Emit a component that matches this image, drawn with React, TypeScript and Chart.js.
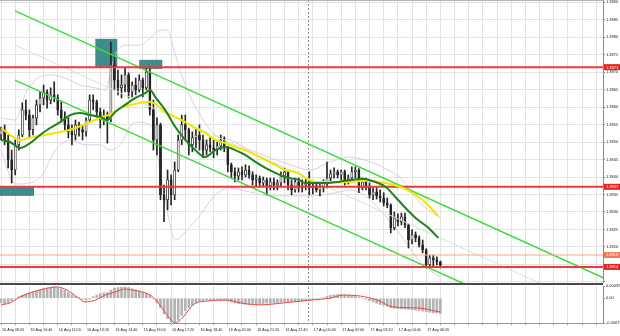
import React, { useEffect, useRef } from 'react';
import { Chart, registerables } from 'chart.js';

Chart.register(...registerables);

const FONT = '"Liberation Sans", Arial, sans-serif';

// ---- time axis labels (one every 8 bars) ----
const timeLabels = [
  '16 Aug 09:20', '16 Aug 10:40', '16 Aug 12:00', '16 Aug 13:20', '16 Aug 14:40', '16 Aug 16:00',
  '16 Aug 17:20', '16 Aug 18:40', '16 Aug 20:00', '16 Aug 21:20', '16 Aug 22:40', '17 Aug 00:00',
  '17 Aug 02:00', '17 Aug 03:20', '17 Aug 04:40', '17 Aug 06:20',
];

// ---- candles ----
const opens = [
  1.38520, 1.38535, 1.38506, 1.38449, 1.38420, 1.38492, 1.38520, 1.38592, 1.38577, 1.38535,
  1.38569, 1.38606, 1.38626, 1.38643, 1.38620, 1.38635, 1.38626, 1.38592, 1.38569, 1.38549,
  1.38529, 1.38520, 1.38549, 1.38535, 1.38529, 1.38563, 1.38620, 1.38615, 1.38586, 1.38563,
  1.38577, 1.38563, 1.38720, 1.38677, 1.38655, 1.38663, 1.38692, 1.38643, 1.38663, 1.38649,
  1.38677, 1.38655, 1.38700, 1.38592, 1.38506, 1.38549, 1.38349, 1.38335, 1.38392, 1.38349,
  1.38420, 1.38506, 1.38549, 1.38535, 1.38492, 1.38512, 1.38520, 1.38506, 1.38477, 1.38492,
  1.38483, 1.38477, 1.38489, 1.38506, 1.38483, 1.38435, 1.38415, 1.38403, 1.38415, 1.38406,
  1.38420, 1.38406, 1.38392, 1.38397, 1.38383, 1.38392, 1.38375, 1.38386, 1.38377, 1.38383,
  1.38403, 1.38415, 1.38377, 1.38363, 1.38386, 1.38369, 1.38377, 1.38386, 1.38369, 1.38375,
  1.38363, 1.38372, 1.38383, 1.38397, 1.38409, 1.38415, 1.38406, 1.38415, 1.38392, 1.38397,
  1.38415, 1.38420, 1.38369, 1.38386, 1.38375, 1.38349, 1.38357, 1.38346, 1.38340, 1.38326,
  1.38320, 1.38255, 1.38283, 1.38272, 1.38286, 1.38263, 1.38220, 1.38235, 1.38226, 1.38206,
  1.38192, 1.38149, 1.38169, 1.38163, 1.38157,
];
const highs = [
  1.38543, 1.38549, 1.38520, 1.38477, 1.38506, 1.38535, 1.38612, 1.38620, 1.38592, 1.38577,
  1.38620, 1.38643, 1.38663, 1.38649, 1.38655, 1.38672, 1.38635, 1.38615, 1.38586, 1.38569,
  1.38549, 1.38563, 1.38557, 1.38549, 1.38569, 1.38635, 1.38635, 1.38620, 1.38597, 1.38592,
  1.38586, 1.38786, 1.38749, 1.38706, 1.38692, 1.38712, 1.38698, 1.38672, 1.38683, 1.38692,
  1.38683, 1.38712, 1.38712, 1.38620, 1.38569, 1.38554, 1.38377, 1.38420, 1.38406, 1.38443,
  1.38520, 1.38577, 1.38577, 1.38540, 1.38529, 1.38540, 1.38549, 1.38520, 1.38506, 1.38515,
  1.38506, 1.38500, 1.38520, 1.38515, 1.38488, 1.38440, 1.38426, 1.38426, 1.38429, 1.38435,
  1.38432, 1.38415, 1.38406, 1.38403, 1.38400, 1.38397, 1.38397, 1.38397, 1.38392, 1.38415,
  1.38426, 1.38419, 1.38392, 1.38397, 1.38397, 1.38392, 1.38397, 1.38415, 1.38386, 1.38386,
  1.38383, 1.38392, 1.38443, 1.38420, 1.38426, 1.38420, 1.38420, 1.38420, 1.38406, 1.38429,
  1.38429, 1.38424, 1.38397, 1.38397, 1.38383, 1.38369, 1.38369, 1.38363, 1.38355, 1.38340,
  1.38323, 1.38300, 1.38295, 1.38297, 1.38297, 1.38266, 1.38249, 1.38243, 1.38232, 1.38220,
  1.38195, 1.38177, 1.38177, 1.38172, 1.38160,
];
const lows = [
  1.38506, 1.38492, 1.38426, 1.38383, 1.38406, 1.38477, 1.38515, 1.38563, 1.38515, 1.38520,
  1.38549, 1.38586, 1.38606, 1.38597, 1.38609, 1.38615, 1.38577, 1.38557, 1.38535, 1.38512,
  1.38492, 1.38506, 1.38517, 1.38506, 1.38517, 1.38557, 1.38592, 1.38569, 1.38540, 1.38549,
  1.38497, 1.38558, 1.38649, 1.38635, 1.38626, 1.38643, 1.38626, 1.38629, 1.38635, 1.38643,
  1.38629, 1.38649, 1.38577, 1.38477, 1.38463, 1.38335, 1.38272, 1.38306, 1.38320, 1.38335,
  1.38415, 1.38492, 1.38506, 1.38463, 1.38472, 1.38483, 1.38477, 1.38455, 1.38463, 1.38472,
  1.38455, 1.38463, 1.38477, 1.38472, 1.38415, 1.38397, 1.38386, 1.38392, 1.38392, 1.38400,
  1.38397, 1.38377, 1.38375, 1.38372, 1.38375, 1.38349, 1.38363, 1.38363, 1.38363, 1.38372,
  1.38383, 1.38363, 1.38349, 1.38357, 1.38357, 1.38357, 1.38363, 1.38349, 1.38352, 1.38357,
  1.38346, 1.38357, 1.38369, 1.38386, 1.38397, 1.38397, 1.38392, 1.38377, 1.38380, 1.38389,
  1.38397, 1.38355, 1.38363, 1.38363, 1.38340, 1.38335, 1.38337, 1.38329, 1.38317, 1.38312,
  1.38240, 1.38249, 1.38260, 1.38263, 1.38255, 1.38197, 1.38209, 1.38215, 1.38200, 1.38183,
  1.38140, 1.38140, 1.38146, 1.38149, 1.38140,
];
const closes = [
  1.38535, 1.38506, 1.38449, 1.38420, 1.38492, 1.38520, 1.38592, 1.38577, 1.38535, 1.38569,
  1.38606, 1.38626, 1.38643, 1.38620, 1.38635, 1.38626, 1.38592, 1.38569, 1.38549, 1.38529,
  1.38520, 1.38549, 1.38535, 1.38529, 1.38563, 1.38620, 1.38615, 1.38586, 1.38563, 1.38577,
  1.38563, 1.38720, 1.38677, 1.38655, 1.38663, 1.38692, 1.38643, 1.38663, 1.38649, 1.38677,
  1.38655, 1.38700, 1.38592, 1.38506, 1.38549, 1.38349, 1.38335, 1.38392, 1.38349, 1.38420,
  1.38506, 1.38549, 1.38535, 1.38492, 1.38512, 1.38520, 1.38506, 1.38477, 1.38492, 1.38483,
  1.38477, 1.38489, 1.38506, 1.38483, 1.38435, 1.38415, 1.38403, 1.38415, 1.38406, 1.38420,
  1.38406, 1.38392, 1.38397, 1.38383, 1.38392, 1.38375, 1.38386, 1.38377, 1.38383, 1.38403,
  1.38415, 1.38377, 1.38363, 1.38386, 1.38369, 1.38377, 1.38386, 1.38369, 1.38375, 1.38363,
  1.38372, 1.38383, 1.38397, 1.38409, 1.38415, 1.38406, 1.38415, 1.38392, 1.38397, 1.38415,
  1.38420, 1.38369, 1.38386, 1.38375, 1.38349, 1.38357, 1.38346, 1.38340, 1.38326, 1.38320,
  1.38255, 1.38283, 1.38272, 1.38286, 1.38263, 1.38220, 1.38235, 1.38226, 1.38206, 1.38192,
  1.38149, 1.38169, 1.38163, 1.38157, 1.38149,
];

// ---- moving averages & bands: [bar index, price] ----
const yellowMA: [number, number][] = [
  [0, 1.38540], [5.4, 1.38506], [8.2, 1.38512], [13.8, 1.38523], [19.5, 1.38535], [25.1, 1.38557],
  [28, 1.38569], [30.8, 1.38580], [33.6, 1.38597], [37.9, 1.38609], [42.1, 1.38615], [43.5, 1.38609],
  [46.3, 1.38586], [49.2, 1.38572], [52, 1.38557], [54.8, 1.38540], [57.6, 1.38526], [60.5, 1.38506],
  [63.3, 1.38497], [66.1, 1.38486], [68.9, 1.38477], [71.8, 1.38463], [74.6, 1.38449], [77.4, 1.38435],
  [80.2, 1.38420], [83.9, 1.38412], [85.9, 1.38397], [88.7, 1.38386], [91.5, 1.38386], [97.2, 1.38386],
  [102.8, 1.38389], [108.5, 1.38383], [114.1, 1.38366], [118.9, 1.38335], [123.4, 1.38289],
];
const greenMA: [number, number][] = [
  [0, 1.38506], [2.5, 1.38500], [5.4, 1.38483], [8.2, 1.38497], [11, 1.38520], [13.8, 1.38540],
  [16.7, 1.38557], [19.5, 1.38577], [22.3, 1.38583], [25.1, 1.38577], [28, 1.38572], [30, 1.38563],
  [32.2, 1.38586], [35, 1.38606], [37.9, 1.38626], [40.7, 1.38640], [42.1, 1.38649], [43.5, 1.38629],
  [46.3, 1.38592], [49.2, 1.38543], [52, 1.38506], [54.8, 1.38477], [57.6, 1.38457], [60.5, 1.38477],
  [63.3, 1.38486], [66.1, 1.38477], [68.9, 1.38463], [71.8, 1.38443], [74.6, 1.38426], [77.4, 1.38412],
  [80.2, 1.38400], [83.9, 1.38392], [85.9, 1.38383], [91.5, 1.38383], [97.2, 1.38389], [102, 1.38395],
  [105.6, 1.38386], [108.5, 1.38372], [111.3, 1.38343], [114.1, 1.38312], [117, 1.38283],
  [120.6, 1.38255], [123.4, 1.38226],
];
const bandUpper: [number, number][] = [
  [0, 1.38569], [4, 1.38563], [6.8, 1.38635], [9.6, 1.38677], [13.8, 1.38692], [18.1, 1.38683],
  [22.3, 1.38663], [26.6, 1.38655], [29.4, 1.38649], [32.2, 1.38749], [35, 1.38777], [39.3, 1.38777],
  [42.1, 1.38797], [44.9, 1.38820], [46.9, 1.38820], [49.2, 1.38749], [52, 1.38663], [56.2, 1.38577],
  [60.5, 1.38520], [64.7, 1.38506], [70.3, 1.38477], [76, 1.38455], [81.6, 1.38435], [87.3, 1.38420],
  [92.9, 1.38443], [98.6, 1.38457], [104.2, 1.38443], [109.3, 1.38420], [113.3, 1.38392],
  [117, 1.38340], [120.6, 1.38306], [124, 1.38283],
];
const bandLower: [number, number][] = [
  [0, 1.38477], [4, 1.38380], [8.2, 1.38383], [11.6, 1.38406], [15.3, 1.38477], [19.5, 1.38506],
  [23.7, 1.38492], [28, 1.38492], [30.8, 1.38477], [33.6, 1.38492], [37.9, 1.38557], [42.1, 1.38549],
  [44.4, 1.38449], [46.3, 1.38335], [49.2, 1.38220], [52.5, 1.38249], [56.2, 1.38292], [60.5, 1.38349],
  [64.7, 1.38369], [70.3, 1.38357], [76, 1.38346], [81.6, 1.38346], [87.3, 1.38346], [92.9, 1.38352],
  [98.6, 1.38363], [102.8, 1.38346], [107, 1.38306], [112.7, 1.38235], [118.4, 1.38157], [124, 1.38112],
];

// ---- drawn objects ----
const channelUpper: [number, number][] = [[3.95, 1.38875], [170, 1.38112]];
const channelMid: [number, number][] = [[3.95, 1.38777], [170, 1.38014]];
const channelLower: [number, number][] = [[3.95, 1.38677], [170, 1.37914]];
const redLevels = [1.38714, 1.38372, 1.38143];
const orangeLevels = [1.38177];
// [fromIndex, toIndex, topPrice, bottomPrice]
const zones: [number, number, number, number][] = [
  [26.6, 32.8, 1.38795, 1.38715],
  [39.0, 45.5, 1.38735, 1.38709],
  [-0.3, 9.3, 1.38372, 1.38346],
];
const separatorIndex = 86.7;
const priceTicks = [
  1.3810, 1.3815, 1.3820, 1.3825, 1.3830, 1.3835, 1.3840, 1.3845, 1.3850,
  1.3855, 1.3860, 1.3865, 1.3870, 1.3875, 1.3880, 1.3885, 1.3890,
];

// ---- MACD ----
const macdHist = [
  -0.00015, -0.00018, -0.00015,
  -0.00008, 0.00000, 0.00005,
  0.00010, 0.00014, 0.00017,
  0.00020, 0.00023, 0.00027,
  0.00030, 0.00033, 0.00035, 0.00036,
  0.00034, 0.00030, 0.00025,
  0.00018, 0.00012, 0.00006,
  0.00001, -0.00003, -0.00006,
  -0.00003, 0.00005, 0.00010,
  0.00014, 0.00017, 0.00018,
  0.00026, 0.00032, 0.00034,
  0.00035, 0.00036, 0.00034,
  0.00030, 0.00027, 0.00024,
  0.00020, 0.00016, 0.00010,
  -0.00002, -0.00015, -0.00030,
  -0.00050, -0.00065, -0.00076,
  -0.00080, -0.00070, -0.00055,
  -0.00040, -0.00030, -0.00022,
  -0.00015, -0.00010, -0.00008,
  -0.00006, -0.00005, -0.00005,
  -0.00005, -0.00006, -0.00007, -0.00009,
  -0.00012, -0.00015, -0.00017,
  -0.00018, -0.00019, -0.00020,
  -0.00020, -0.00019, -0.00018,
  -0.00017, -0.00016, -0.00016,
  -0.00015, -0.00014, -0.00013,
  -0.00012, -0.00012, -0.00011,
  -0.00010, -0.00010, -0.00009,
  -0.00008, -0.00006, -0.00004,
  -0.00002, 0.00000, 0.00002,
  0.00006, 0.00009, 0.00011,
  0.00012, 0.00012, 0.00011,
  0.00010, 0.00009, 0.00007,
  0.00003, 0.00000, -0.00003,
  -0.00008, -0.00012, -0.00016,
  -0.00020, -0.00023, -0.00026,
  -0.00030, -0.00032, -0.00033,
  -0.00034, -0.00035, -0.00036,
  -0.00037, -0.00038, -0.00039,
  -0.00041, -0.00043, -0.00045,
  -0.00046, -0.00047, -0.00048,
];
const macdSignal: [number, number][] = [
  [0, -0.00021], [2.5, -0.00015], [5.4, 0.00004], [8.2, 0.00017], [11.9, 0.00029], [15.8, 0.00036],
  [18.6, 0.00026], [21.5, 0.00004], [23.7, -0.00012], [26.6, -0.00006], [29.4, 0.00010], [32.2, 0.00020],
  [35, 0.00029], [38.4, 0.00023], [42.1, 0.00010], [44.4, -0.00015], [46.9, -0.00054], [49.2, -0.00079],
  [51.4, -0.00060], [54.2, -0.00021], [58.2, -0.00009], [63.8, -0.00006], [67.5, -0.00015],
  [73.2, -0.00021], [79.7, -0.00015], [87.3, -0.00006], [92.9, 0.00000], [96.6, 0.00010],
  [101.4, 0.00007], [106.2, -0.00006], [110.7, -0.00028], [117.5, -0.00031], [124, -0.00044],
];
const macdTicks = [-0.00079, 0, 0.00039];

// ---- layout constants ----
const X_MIN = -0.3;
const X_MAX = 169.9;
const PRICE_MIN = 1.38097;
const PRICE_MAX = 1.38906;
const MACD_MIN = -0.00079;
const MACD_MAX = 0.00039;
const GRID = '#e3e3e3';
const CANDLE = '#262626';

const gridIdx: number[] = [];
for (let v = 0; v <= 168; v += 4) gridIdx.push(v);

const pts = (arr: [number, number][]) => arr.map(([x, y]) => ({ x, y }));
const hline = (p: number) => [{ x: X_MIN - 1, y: p }, { x: X_MAX + 1, y: p }];

const lineDs = (data: any[], color: string, width: number, order: number, extra: any = {}) => ({
  type: 'line',
  data,
  borderColor: color,
  borderWidth: width,
  pointRadius: 0,
  fill: false,
  order,
  clip: 0,
  ...extra,
});

const mainDecor = {
  id: 'mainDecor',
  beforeDatasetsDraw(chart: any) {
    const { ctx, chartArea: a, scales } = chart;
    const xs = scales.x;
    const ys = scales.y;
    ctx.save();
    ctx.beginPath();
    ctx.rect(a.left, a.top, a.right - a.left, a.bottom - a.top);
    ctx.clip();
    ctx.fillStyle = '#3f8c8c';
    for (const [i0, i1, p0, p1] of zones) {
      const x0 = xs.getPixelForValue(i0);
      const x1 = xs.getPixelForValue(i1);
      const y0 = ys.getPixelForValue(p0);
      const y1 = ys.getPixelForValue(p1);
      ctx.fillRect(x0, y0, x1 - x0, y1 - y0);
    }
    const sx = Math.round(xs.getPixelForValue(separatorIndex)) + 0.5;
    ctx.strokeStyle = '#8a8a8a';
    ctx.lineWidth = 1;
    ctx.setLineDash([2, 2]);
    ctx.beginPath();
    ctx.moveTo(sx, a.top);
    ctx.lineTo(sx, a.bottom);
    ctx.stroke();
    ctx.restore();
  },
  afterDraw(chart: any) {
    const { ctx, chartArea: a, scales } = chart;
    const ys = scales.y;
    ctx.save();
    ctx.fillStyle = '#b4b4b4';
    ctx.fillRect(a.left, a.top, a.right - a.left, 1);
    ctx.font = `4px ${FONT}`;
    ctx.textBaseline = 'middle';
    ctx.textAlign = 'left';
    const box = (p: number, bg: string) => {
      const y = ys.getPixelForValue(p);
      ctx.fillStyle = bg;
      ctx.fillRect(a.right + 1, y - 3, 20, 6);
      ctx.fillStyle = '#ffffff';
      ctx.fillText(p.toFixed(4), a.right + 3, y + 0.3);
    };
    redLevels.forEach((p) => box(p, '#e52222'));
    orangeLevels.forEach((p) => box(p, '#f07a55'));
    ctx.restore();
  },
};

const macdDecor = {
  id: 'macdDecor',
  beforeDatasetsDraw(chart: any) {
    const { ctx, chartArea: a, scales } = chart;
    const sx = Math.round(scales.x.getPixelForValue(separatorIndex)) + 0.5;
    ctx.save();
    ctx.strokeStyle = '#8a8a8a';
    ctx.lineWidth = 1;
    ctx.setLineDash([2, 2]);
    ctx.beginPath();
    ctx.moveTo(sx, 0);
    ctx.lineTo(sx, a.bottom);
    ctx.stroke();
    ctx.restore();
  },
  afterDraw(chart: any) {
    const { ctx, chartArea: a } = chart;
    ctx.save();
    ctx.fillStyle = '#4a4a4a';
    ctx.fillRect(0, 0, a.right, 2);
    ctx.restore();
  },
};

function mainConfig(): any {
  return {
    type: 'line',
    data: {
      datasets: [
        lineDs(pts(bandUpper), '#e2c8ec', 1, 10, { cubicInterpolationMode: 'monotone' }),
        lineDs(pts(bandLower), '#e2c8ec', 1, 10, { cubicInterpolationMode: 'monotone' }),
        {
          type: 'bar',
          data: highs.map((h, i) => ({ x: i, y: [lows[i], h] })),
          backgroundColor: CANDLE,
          barThickness: 1,
          grouped: false,
          order: 6,
        },
        {
          type: 'bar',
          data: opens.map((o, i) => ({ x: i, y: [o, closes[i]] })),
          backgroundColor: (c: any) => (closes[c.dataIndex] > opens[c.dataIndex] ? '#ffffff' : CANDLE),
          borderColor: CANDLE,
          borderWidth: 0.8,
          borderSkipped: false,
          barThickness: 2.2,
          grouped: false,
          order: 5,
        },
        lineDs(pts(channelMid), '#c4efc4', 1, 4),
        lineDs(pts(channelUpper), '#3ddc3d', 1.5, 3),
        lineDs(pts(channelLower), '#3ddc3d', 1.5, 3),
        ...orangeLevels.map((p) => lineDs(hline(p), '#f7a78c', 1, 2)),
        ...redLevels.map((p) => lineDs(hline(p), '#ef3838', 2, 2)),
        lineDs(pts(yellowMA), '#f2e500', 2, 1, { cubicInterpolationMode: 'monotone' }),
        lineDs(pts(greenMA), '#1f801f', 2, 0, { cubicInterpolationMode: 'monotone' }),
      ],
    },
    options: {
      responsive: false,
      maintainAspectRatio: false,
      devicePixelRatio: 1,
      animation: false,
      events: [],
      layout: { padding: 0, autoPadding: false },
      plugins: { legend: { display: false }, tooltip: { enabled: false } },
      scales: {
        x: {
          type: 'linear',
          min: X_MIN,
          max: X_MAX,
          offset: false,
          afterBuildTicks: (s: any) => {
            s.ticks = gridIdx.map((v) => ({ value: v }));
          },
          ticks: { display: false },
          grid: { color: GRID, lineWidth: 1, drawTicks: false, offset: false },
          border: { display: false },
          afterFit: (s: any) => {
            s.height = 0;
            s.paddingLeft = 0;
            s.paddingRight = 0;
          },
        },
        y: {
          type: 'linear',
          position: 'right',
          min: PRICE_MIN,
          max: PRICE_MAX,
          afterBuildTicks: (s: any) => {
            s.ticks = priceTicks.map((v) => ({ value: v }));
          },
          ticks: {
            autoSkip: false,
            callback: (v: number) => (v >= 1.38195 ? v.toFixed(4) : ''),
            font: { size: 4, family: FONT },
            color: '#222222',
            padding: 1,
          },
          grid: { color: GRID, lineWidth: 1, tickLength: 2, tickColor: '#888888' },
          border: { display: true, color: '#8c8c8c' },
          afterFit: (s: any) => {
            s.width = 17;
            s.paddingTop = 0;
            s.paddingBottom = 0;
          },
        },
      },
    },
    plugins: [mainDecor],
  };
}

function macdConfig(): any {
  return {
    type: 'line',
    data: {
      datasets: [
        {
          type: 'bar',
          data: macdHist.map((v, i) => ({ x: i, y: v })),
          backgroundColor: '#b3b3b3',
          barThickness: 2,
          grouped: false,
          order: 2,
        },
        lineDs(pts(macdSignal), '#f04545', 1, 1, { cubicInterpolationMode: 'monotone' }),
      ],
    },
    options: {
      responsive: false,
      maintainAspectRatio: false,
      devicePixelRatio: 1,
      animation: false,
      events: [],
      layout: { padding: { top: 3, left: 0, right: 0, bottom: 0 }, autoPadding: false },
      plugins: { legend: { display: false }, tooltip: { enabled: false } },
      scales: {
        x: {
          type: 'linear',
          min: X_MIN,
          max: X_MAX,
          offset: false,
          afterBuildTicks: (s: any) => {
            s.ticks = gridIdx.map((v) => ({ value: v }));
          },
          ticks: {
            autoSkip: false,
            maxRotation: 0,
            minRotation: 0,
            align: 'start',
            labelOffset: 1,
            padding: 3,
            font: { size: 3.7, family: FONT },
            color: '#222222',
            callback: (v: number) => {
              const k = v / 8;
              return Number.isInteger(k) && k < timeLabels.length ? timeLabels[k] : '';
            },
          },
          grid: { color: GRID, lineWidth: 1, drawTicks: true, tickLength: 2, tickColor: '#888888', offset: false },
          border: { display: true, color: '#9a9a9a' },
          afterFit: (s: any) => {
            s.height = 13;
            s.paddingLeft = 0;
            s.paddingRight = 0;
          },
        },
        y: {
          type: 'linear',
          position: 'right',
          min: MACD_MIN,
          max: MACD_MAX,
          afterBuildTicks: (s: any) => {
            s.ticks = macdTicks.map((v) => ({ value: v }));
          },
          ticks: {
            autoSkip: false,
            callback: (v: number) => (v === 0 ? '0.00' : v.toFixed(5)),
            font: { size: 4, family: FONT },
            color: '#222222',
            padding: 1,
          },
          grid: { drawOnChartArea: false, tickLength: 2, tickColor: '#888888' },
          border: { display: true, color: '#8c8c8c' },
          afterFit: (s: any) => {
            s.width = 17;
            s.paddingTop = 0;
            s.paddingBottom = 0;
          },
        },
      },
    },
    plugins: [macdDecor],
  };
}

export default function App() {
  const mainRef = useRef<HTMLCanvasElement>(null);
  const macdRef = useRef<HTMLCanvasElement>(null);

  useEffect(() => {
    const c1 = new Chart(mainRef.current as HTMLCanvasElement, mainConfig());
    const c2 = new Chart(macdRef.current as HTMLCanvasElement, macdConfig());
    return () => {
      c1.destroy();
      c2.destroy();
    };
  }, []);

  return (
    <div
      style={{
        position: 'absolute',
        left: 0,
        top: 0,
        width: 620,
        height: 336,
        background: '#ffffff',
        overflow: 'hidden',
      }}
    >
      <canvas
        ref={mainRef}
        width={620}
        height={283}
        style={{ position: 'absolute', left: 0, top: 0, width: 620, height: 283, display: 'block' }}
      />
      <canvas
        ref={macdRef}
        width={620}
        height={53}
        style={{ position: 'absolute', left: 0, top: 283, width: 620, height: 53, display: 'block' }}
      />
    </div>
  );
}
